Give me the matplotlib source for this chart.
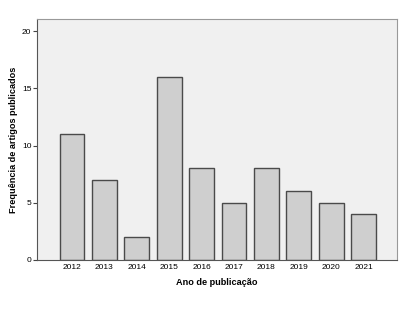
import matplotlib.pyplot as plt

plt.rcParams["font.family"] = ["Liberation Sans", "DejaVu Sans"]

anos = ["2012", "2013", "2014", "2015", "2016", "2017", "2018", "2019", "2020", "2021"]
artigos = [11, 7, 2, 16, 8, 5, 8, 6, 5, 4]

fig = plt.figure(figsize=(4.02, 3.10), dpi=100)
ax = fig.add_axes([37 / 402, 50 / 310, 360 / 402, 241 / 310])
ax.set_facecolor("#f0f0f0")

x = list(range(len(anos)))
ax.bar(x, artigos, width=0.77, color="#cfcfcf", edgecolor="#4a4a4a", linewidth=1.0, zorder=2)

ax.set_xlim(-1.08, 10.03)
ax.set_ylim(0, 21.05)
ax.set_xticks(x)
ax.set_xticklabels(anos)
ax.set_yticks([0, 5, 10, 15, 20])
ax.tick_params(axis="x", length=0, labelsize=6, pad=3)
ax.tick_params(axis="y", length=3, labelsize=6, pad=1, color="#444444")

for s in ["left", "bottom"]:
    ax.spines[s].set_color("#555555")
for s in ["top", "right"]:
    ax.spines[s].set_color("#999999")

ax.set_xlabel("Ano de publicação", fontsize=6.6, fontweight="bold", labelpad=5)
ax.set_ylabel("Frequência de artigos publicados", fontsize=6.6, fontweight="bold", labelpad=3)

fig.savefig("out.png", dpi=100)
